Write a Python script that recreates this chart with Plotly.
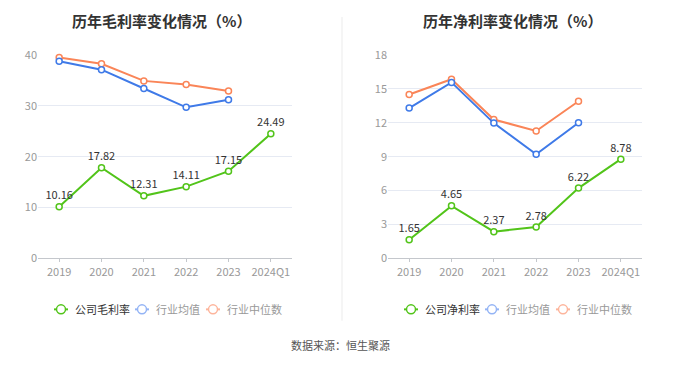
import plotly.graph_objects as go

categories = ["2019", "2020", "2021", "2022", "2023", "2024Q1"]

gross_company = [10.16, 17.82, 12.31, 14.11, 17.15, 24.49]
gross_ind_avg = [38.76, 37.1, 33.4, 29.7, 31.2, None]
gross_ind_med = [39.5, 38.25, 34.9, 34.2, 32.9, None]

net_company = [1.65, 4.65, 2.37, 2.78, 6.22, 8.78]
net_ind_avg = [13.3, 15.57, 11.97, 9.22, 12.0, None]
net_ind_med = [14.5, 15.85, 12.29, 11.27, 13.9, None]

gross_ticks = [0, 10, 20, 30, 40]
net_ticks = [0, 3, 6, 9, 12, 15, 18]

titles = ["历年毛利率变化情况（%）", "历年净利率变化情况（%）"]
legend_names = [["公司毛利率", "行业均值", "行业中位数"], ["公司净利率", "行业均值", "行业中位数"]]
source_text = "数据来源：恒生聚源"

GREEN = "#52c41a"
BLUE = "#3f7ae8"
ORANGE = "#fa8558"
LIGHT_BLUE = "#94b4f5"
LIGHT_ORANGE = "#fdb59c"

FONT = "Noto Sans CJK SC, Microsoft YaHei, sans-serif"
# the page body has an 8px margin; the figure is sized to fill the rest of the window
OFF = 8
W, H = 680 - OFF, 367 - OFF


def fx(px):
    return (px - OFF) / W


def fy(py):
    return (H - (py - OFF)) / H


fig = go.Figure()

panels = [
    dict(xa="x", ya="y", comp=gross_company, avg=gross_ind_avg, med=gross_ind_med, leg_x=[54, 135, 206]),
    dict(xa="x2", ya="y2", comp=net_company, avg=net_ind_avg, med=net_ind_med, leg_x=[404, 485, 556]),
]

shapes = [dict(type="line", xref="paper", yref="paper", x0=fx(342), x1=fx(342),
               y0=fy(326), y1=1, line=dict(color="#f2f2f2", width=1.5))]
annotations = []

for i, p in enumerate(panels):
    fig.add_trace(go.Scatter(
        x=categories, y=p["med"], xaxis=p["xa"], yaxis=p["ya"], mode="lines+markers",
        line=dict(color=ORANGE, width=2), showlegend=False, cliponaxis=False,
        marker=dict(symbol="circle", size=6, color="white", line=dict(color=ORANGE, width=1.5)),
    ))
    fig.add_trace(go.Scatter(
        x=categories, y=p["avg"], xaxis=p["xa"], yaxis=p["ya"], mode="lines+markers",
        line=dict(color=BLUE, width=2), showlegend=False, cliponaxis=False,
        marker=dict(symbol="circle", size=6, color="white", line=dict(color=BLUE, width=1.5)),
    ))
    fig.add_trace(go.Scatter(
        x=categories, y=p["comp"], xaxis=p["xa"], yaxis=p["ya"], mode="lines+markers+text",
        text=[f"{v:.2f}" for v in p["comp"]], textposition="top center",
        textfont=dict(size=11, color="#333333", family=FONT),
        line=dict(color=GREEN, width=2), showlegend=False, cliponaxis=False,
        marker=dict(symbol="circle", size=6, color="white", line=dict(color=GREEN, width=1.5)),
    ))
    # legend (drawn as shapes + text)
    ly = 314
    for name, col, tcol, lx in zip(legend_names[i], [GREEN, LIGHT_BLUE, LIGHT_ORANGE],
                                   ["#333333", "#999999", "#999999"], p["leg_x"]):
        shapes.append(dict(type="line", xref="paper", yref="paper", x0=fx(lx), x1=fx(lx + 14),
                           y0=fy(ly), y1=fy(ly), line=dict(color=col, width=2)))
        shapes.append(dict(type="circle", xref="paper", yref="paper", xsizemode="pixel", ysizemode="pixel",
                           xanchor=fx(lx + 7), yanchor=fy(ly), x0=-4.5, x1=4.5, y0=-4.5, y1=4.5,
                           fillcolor="white", line=dict(color=col, width=1.5)))
        annotations.append(dict(text=name, x=fx(lx + 19), y=fy(ly), xref="paper", yref="paper",
                                showarrow=False, xanchor="left", yanchor="middle",
                                font=dict(size=11, color=tcol, family=FONT)))

ydom = [fy(260.7), fy(47.7)]
axis_common = dict(
    type="category", range=[-0.5, 5.5], showgrid=False, showline=True, linecolor="#c4c7cc",
    linewidth=1, ticks="outside", ticklen=3, tickcolor="#c4c7cc",
    tickfont=dict(size=11, color="#999999", family=FONT), fixedrange=True,
)
yaxis_common = dict(
    showgrid=True, gridcolor="#e6eaf3", gridwidth=1, zeroline=False, showline=False,
    tickfont=dict(size=11, color="#999999", family=FONT), ticks="", domain=ydom,
)

annotations += [
    dict(text=f"<b>{titles[0]}</b>", x=fx(161), y=fy(12), xref="paper", yref="paper",
         showarrow=False, font=dict(size=15, color="#333333", family=FONT), xanchor="center", yanchor="middle"),
    dict(text=f"<b>{titles[1]}</b>", x=fx(512), y=fy(12), xref="paper", yref="paper",
         showarrow=False, font=dict(size=15, color="#333333", family=FONT), xanchor="center", yanchor="middle"),
    dict(text=source_text, x=fx(340), y=fy(351), xref="paper", yref="paper",
         showarrow=False, font=dict(size=11, color="#555555", family=FONT), xanchor="center", yanchor="middle"),
]

fig.update_layout(
    width=W, height=H, margin=dict(l=0, r=0, t=0, b=0),
    paper_bgcolor="white", plot_bgcolor="white",
    font=dict(family=FONT, size=11, color="#333333"),
    xaxis=dict(axis_common, domain=[fx(38), fx(292)], anchor="y"),
    xaxis2=dict(axis_common, domain=[fx(388), fx(642)], anchor="y2"),
    yaxis=dict(yaxis_common, range=[0, 40], tickvals=gross_ticks, anchor="x"),
    yaxis2=dict(yaxis_common, range=[0, 18], tickvals=net_ticks, anchor="x2"),
    showlegend=False,
    shapes=shapes,
    annotations=annotations,
)

fig.write_html("out.html")
